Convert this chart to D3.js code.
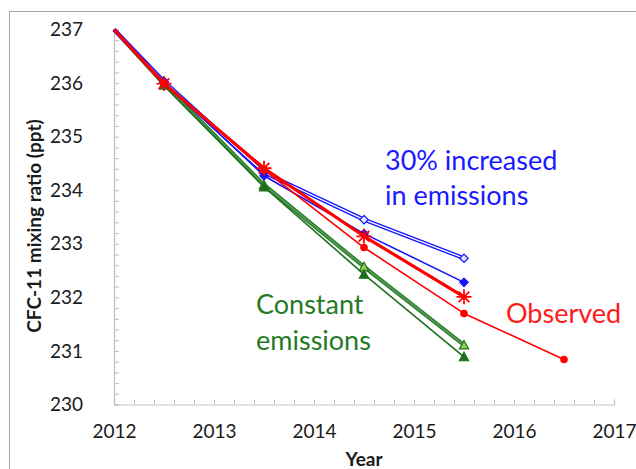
<!DOCTYPE html>
<html>
<head>
<meta charset="utf-8">
<script src="https://cdn.jsdelivr.net/npm/d3@7"></script>
<style>
  html, body { margin: 0; padding: 0; background: #fff; }
  svg { display: block; font-family: Lato, "Open Sans", sans-serif; }
</style>
</head>
<body>
<svg id="chart" width="636" height="469"></svg>
<script>
// CFC-11 mixing ratio (ppt): observations vs. model scenarios
const years = [2012, 2012.5, 2013.5, 2014.5, 2015.5];
const yearsObserved = [2012, 2012.5, 2013.5, 2014.5, 2015.5, 2016.5];

const increasedOpen   = [237, 236.03, 234.33, 233.45, 232.73]; // 30% increase, open diamonds
const increasedFilled = [237, 236.02, 234.27, 233.19, 232.28]; // 30% increase, filled diamonds
const modelStar       = [237, 235.99, 234.41, 233.14, 232.01]; // model, star markers
const observed        = [237, 236.00, 234.38, 232.93, 231.70, 230.84];
const constantOpen    = [237, 235.98, 234.10, 232.57, 231.11]; // constant emissions, open triangles
const constantFilled  = [237, 235.96, 234.06, 232.43, 230.89]; // constant emissions, filled triangles

const xTickLabels = [2012, 2013, 2014, 2015, 2016, 2017];
const yTickLabels = [230, 231, 232, 233, 234, 235, 236, 237];

const svg = d3.select("#chart");

// outer frame
svg.append("rect")
  .attr("x", 9.5).attr("y", 11.5)
  .attr("width", 700).attr("height", 500)
  .attr("fill", "none").attr("stroke", "#a6a6a6").attr("stroke-width", 1);

const x = d3.scaleLinear().domain([2012, 2017]).range([114, 614]);
const y = d3.scaleLinear().domain([230, 237]).range([404.5, 29.5]);

const axisColor = "#bfbfbf";
const minorX = d3.range(0, 26).map(i => 2012 + i * 0.2);
const minorY = d3.range(0, 36).map(i => 230 + i * 0.2);
const isWhole = v => Math.abs(v - Math.round(v)) < 1e-6;

// x axis with inward ticks every 0.2 year
const gx = svg.append("g")
  .attr("transform", `translate(0,${y(230)})`)
  .call(d3.axisBottom(x)
    .tickValues(minorX)
    .tickSize(-5)
    .tickPadding(20)
    .tickFormat(d => isWhole(d) && xTickLabels.includes(Math.round(d)) ? String(Math.round(d)) : ""));

// y axis with inward ticks every 0.2 ppt
const gy = svg.append("g")
  .attr("transform", `translate(${x(2012)},0)`)
  .call(d3.axisLeft(y)
    .tickValues(minorY)
    .tickSize(-5)
    .tickPadding(31)
    .tickFormat(d => isWhole(d) && yTickLabels.includes(Math.round(d)) ? String(Math.round(d)) : ""));

[gx, gy].forEach(g => {
  g.select(".domain").attr("stroke", axisColor).attr("stroke-width", 1.2);
  g.selectAll(".tick line").attr("stroke", axisColor);
  g.selectAll(".tick text").attr("fill", "#1a1a1a").attr("font-size", 19)
    .attr("font-family", "Lato, 'Open Sans', sans-serif");
});

// axis titles
svg.append("text")
  .attr("transform", "translate(41,226) rotate(-90)")
  .attr("text-anchor", "middle")
  .attr("font-size", 19).attr("font-weight", "bold").attr("fill", "#1a1a1a")
  .text("CFC-11 mixing ratio (ppt)");

svg.append("text")
  .attr("x", 364).attr("y", 466)
  .attr("text-anchor", "middle")
  .attr("font-size", 19).attr("font-weight", "bold").attr("fill", "#1a1a1a")
  .text("Year");

const line = d3.line().x(d => x(d[0])).y(d => y(d[1]));
const pts = (xs, vs) => vs.map((v, i) => [xs[i], v]);

function drawLine(data, color, width, inner) {
  svg.append("path").datum(data).attr("d", line)
    .attr("fill", "none").attr("stroke", color).attr("stroke-width", width)
    .attr("stroke-linejoin", "round");
  if (inner) {
    svg.append("path").datum(data).attr("d", line)
      .attr("fill", "none").attr("stroke", inner).attr("stroke-width", 1.3)
      .attr("stroke-linejoin", "round");
  }
}

function drawMarkers(data, shape, fill, stroke) {
  const g = svg.append("g");
  data.slice(1).forEach(([px, pv]) => {
    const cx = x(px), cy = y(pv);
    if (shape === "circle") {
      g.append("circle").attr("cx", cx).attr("cy", cy).attr("r", 3.8)
        .attr("fill", fill);
    } else if (shape === "diamond") {
      const s = 4.2;
      g.append("path")
        .attr("d", `M${cx},${cy - s}L${cx + s},${cy}L${cx},${cy + s}L${cx - s},${cy}Z`)
        .attr("fill", fill).attr("stroke", stroke).attr("stroke-width", 1.2);
    } else if (shape === "triangle") {
      const s = 4.6;
      g.append("path")
        .attr("d", `M${cx},${cy - s}L${cx + s},${cy + s * 0.85}L${cx - s},${cy + s * 0.85}Z`)
        .attr("fill", fill).attr("stroke", stroke).attr("stroke-width", 1.2);
    } else if (shape === "star") {
      const s = 7.5, d = 5.3;
      g.append("path")
        .attr("d", `M${cx},${cy - s}V${cy + s}M${cx - s},${cy}H${cx + s}` +
                   `M${cx - d},${cy - d}L${cx + d},${cy + d}M${cx - d},${cy + d}L${cx + d},${cy - d}`)
        .attr("stroke", stroke).attr("stroke-width", 1.8).attr("fill", "none");
    }
  });
}

const darkGreen = "#1f6e1f";
const green = "#2a7d2a";
const blue = "#1414ff";
const red = "#ff0000";

// constant emissions
drawLine(pts(years, constantOpen), green, 4, "#5aa05a");
drawLine(pts(years, constantFilled), darkGreen, 1.6);
drawMarkers(pts(years, constantOpen), "triangle", "#92d050", darkGreen);
drawMarkers(pts(years, constantFilled), "triangle", darkGreen, darkGreen);

// 30% increase in emissions
drawLine(pts(years, increasedOpen), blue, 4, "#ffffff");
drawLine(pts(years, increasedFilled), blue, 1.6);
drawMarkers(pts(years, increasedOpen), "diamond", "#dfe6ff", blue);
drawMarkers(pts(years, increasedFilled), "diamond", blue, blue);

// observed and star series
drawLine(pts(yearsObserved, observed), red, 1.6);
drawLine(pts(years, modelStar), red, 3.2);
drawMarkers(pts(yearsObserved, observed), "circle", red, red);
drawMarkers(pts(years, modelStar), "star", red, red);

// annotations
const label = (lines, xPos, yPos, color, gap) => {
  const t = svg.append("text").attr("fill", color).attr("font-size", 27);
  lines.forEach((s, i) => t.append("tspan").attr("x", xPos).attr("y", yPos + i * gap).text(s));
};
label(["30% increased", "in emissions"], 385, 170, "#1a1aff", 35);
label(["Constant", "emissions"], 256, 314, "#267a26", 36);
label(["Observed"], 506, 323, "#ff1a1a", 0);
</script>
</body>
</html>
